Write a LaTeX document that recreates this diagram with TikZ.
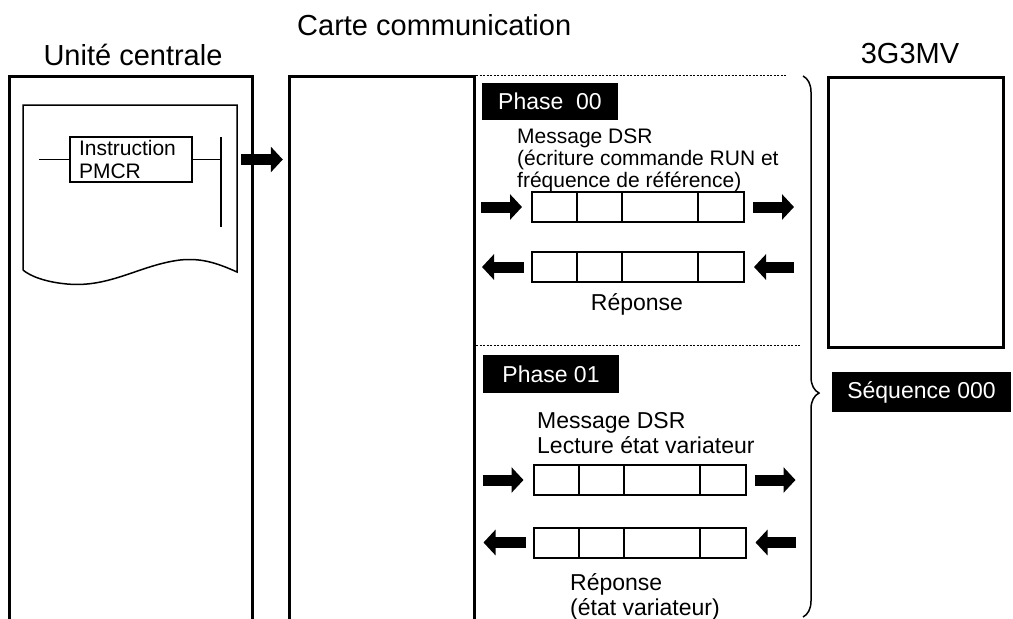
\documentclass[tikz,border=0pt]{standalone}
\usepackage{fontspec}
\setmainfont{Liberation Sans}
\usetikzlibrary{arrows.meta,calc,decorations.pathreplacing}
\begin{document}
\begin{tikzpicture}[x=1pt,y=-1pt,
  boxline/.style={line width=3pt},
  thinline/.style={line width=1.5pt},
  head/.style={font=\fontsize{29}{34}\selectfont, inner sep=0pt},
  txt/.style={font=\fontsize{21}{22}\selectfont, inner sep=0pt, align=left},
  txtb/.style={font=\fontsize{23}{25}\selectfont, inner sep=0pt, align=left},
  blackbox/.style={fill=black, text=white, font=\fontsize{23}{25}\selectfont, inner sep=0pt},
  frame/.style={draw, line width=2pt, minimum width=212pt, minimum height=30pt, inner sep=0pt},
  bigarrow/.style={line width=11pt, -{Triangle[length=12pt,width=25pt]}},
  dots/.style={line width=1pt, dash pattern=on 2pt off 1.5pt}
]
\useasboundingbox (0,0) rectangle (1013,619);

% main blocks
\node[minimum width=242pt, minimum height=542pt, inner sep=0pt] (unite) at (131,348) {};
\draw[boxline] (unite.south west) -- (unite.north west) -- (unite.north east) -- (unite.south east);
\node[minimum width=184pt, minimum height=542pt, inner sep=0pt] (carte) at (382,348) {};
\draw[boxline] (carte.south west) -- (carte.north west) -- (carte.north east) -- (carte.south east);
\node[draw, boxline, minimum width=175pt, minimum height=270pt, inner sep=0pt] (mv) at (915.5,212) {};

% headers
\node[head, anchor=base] (hu) at (133,65) {Unité centrale};
\node[head, anchor=base west] (hc) at (297,35) {Carte communication};
\node[head, anchor=base] (hm) at (910,63) {3G3MV};

% program sheet
\draw[thinline] (23,270) -- (23,105) -- (237,105) -- (237,272)
  .. controls (215,262) and (200,258) .. (180,260)
  .. controls (140,265) and (110,288) .. (67,284)
  .. controls (45,282) and (30,276) .. (23,270);
\node[draw, thinline, minimum width=122pt, minimum height=45pt, text width=104pt,
      align=left, inner xsep=0pt, font=\fontsize{21}{23}\selectfont] (instr) at (131,159.5) {Instruction\\PMCR};
\coordinate (rail) at (221,137);
\draw[thinline] (39,159.5) -- (instr.west);
\draw[thinline] (instr.east) -- (rail |- instr.east);
\draw[thinline] (rail) -- (221,227);

% arrow CPU -> card
\draw[bigarrow] ($(unite.east |- instr.east)+(-11,0)$) -- ($(carte.west |- instr.east)+(-7,0)$);

% separators
\draw[dots] (476,75) -- (787,75);
\draw[dots] (476,345) -- (800,345);

% phase 00
\node[blackbox, minimum width=136pt, minimum height=37pt] (ph0) at (550,101.5) {Phase\ \ 00};
\node[txt, anchor=base west] (m0) at (517,187) {Message DSR\\(écriture commande RUN et\\fréquence de référence)};
\node[frame] (r1) at (638,207) {};
\node[frame] (r2) at (638,267) {};
\node[txtb, anchor=base] (rep0) at (637,310) {Réponse};

% phase 01
\node[blackbox, minimum width=136pt, minimum height=38pt] (ph1) at (551,374) {Phase 01};
\node[txtb, anchor=base west] (m1) at (537,453) {Message DSR\\Lecture état variateur};
\node[frame] (r3) at (639.5,480) {};
\node[frame] (r4) at (639.5,542.5) {};
\node[txtb, anchor=base west] (rep1) at (570,615) {Réponse\\(état variateur)};

% frame dividers
\foreach \r in {r1,r2,r3,r4}
  \foreach \d in {46,91,167}
    \draw[line width=2pt] ($(\r.north west)+(\d,0)$) -- ($(\r.south west)+(\d,0)$);

% arrows
\foreach \r in {r1,r3} {
  \draw[bigarrow] ($(\r.west)+(-50,0)$) -- ($(\r.west)+(-9,0)$);
  \draw[bigarrow] ($(\r.east)+(8,0)$) -- ($(\r.east)+(49,0)$);
}
\foreach \r in {r2,r4} {
  \draw[bigarrow] ($(\r.west)+(-7,0)$) -- ($(\r.west)+(-49,0)$);
  \draw[bigarrow] ($(\r.east)+(49,0)$) -- ($(\r.east)+(9,0)$);
}

% brace and sequence
\draw[line width=1.5pt, decorate, decoration={brace, amplitude=16pt, aspect=0.586}] (803,76) -- (803,617);
\node[blackbox, minimum width=179pt, minimum height=40pt] (seq) at (921.5,392) {Séquence 000};
\end{tikzpicture}
\end{document}
